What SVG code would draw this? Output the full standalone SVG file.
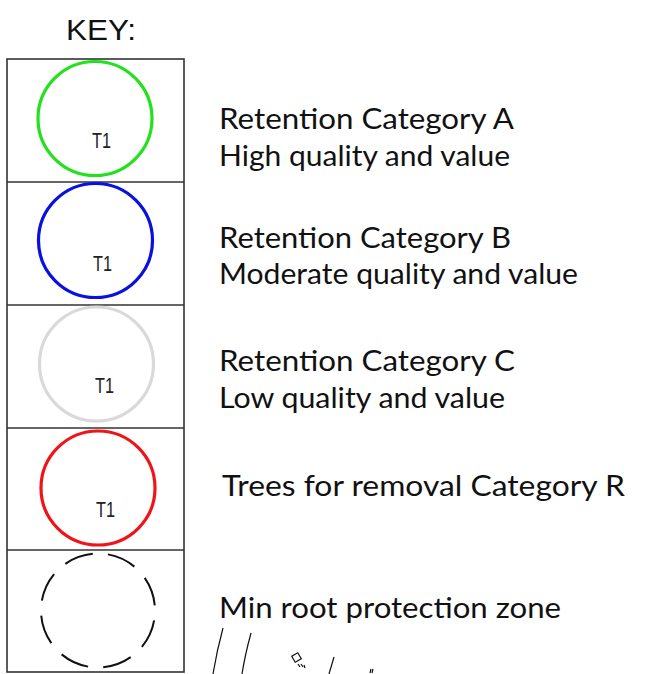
<svg xmlns="http://www.w3.org/2000/svg" width="669" height="674" viewBox="0 0 669 674">
<style>
.box{fill:none;stroke:#333;stroke-width:1.6}
.tree{fill:none;stroke-width:3.2}
.lbl{font-family:Lato,"Open Sans","Liberation Sans",sans-serif;font-size:29px;fill:#111}
.t1{font-family:"Liberation Sans",Arial,sans-serif;font-size:22px;fill:#222}
.thin{fill:none;stroke:#111;stroke-width:1.2}
</style>
<rect width="669" height="674" fill="#fff"/>
<text x="66" y="40" font-family="'Liberation Sans',Arial,sans-serif" font-size="30" fill="#111" textLength="70" lengthAdjust="spacingAndGlyphs">KEY:</text>
<g id="key-box">
<rect class="box" x="7" y="59" width="177" height="613"/>
<line class="box" x1="7" y1="182" x2="184" y2="182"/>
<line class="box" x1="7" y1="305" x2="184" y2="305"/>
<line class="box" x1="7" y1="428" x2="184" y2="428"/>
<line class="box" x1="7" y1="550" x2="184" y2="550"/>
</g>
<g id="cat-a">
<circle class="tree" cx="95" cy="118.5" r="57" stroke="#22e11d"/>
<text class="t1" x="92" y="148" textLength="19" lengthAdjust="spacingAndGlyphs">T1</text>
<text class="lbl" x="219" y="129" textLength="295" lengthAdjust="spacingAndGlyphs">Retention Category A</text>
<text class="lbl" x="219" y="166" textLength="291" lengthAdjust="spacingAndGlyphs">High quality and value</text>
</g>
<g id="cat-b">
<circle class="tree" cx="95.5" cy="240.5" r="57" stroke="#0a10e0"/>
<text class="t1" x="93" y="271" textLength="19" lengthAdjust="spacingAndGlyphs">T1</text>
<text class="lbl" x="219" y="248" textLength="292" lengthAdjust="spacingAndGlyphs">Retention Category B</text>
<text class="lbl" x="219" y="284" textLength="359" lengthAdjust="spacingAndGlyphs">Moderate quality and value</text>
</g>
<g id="cat-c">
<circle class="tree" cx="96.5" cy="364" r="57" stroke="#d9d9d9"/>
<text class="t1" x="95" y="393" textLength="19" lengthAdjust="spacingAndGlyphs">T1</text>
<text class="lbl" x="219" y="371" textLength="296" lengthAdjust="spacingAndGlyphs">Retention Category C</text>
<text class="lbl" x="219" y="408" textLength="286" lengthAdjust="spacingAndGlyphs">Low quality and value</text>
</g>
<g id="cat-r">
<circle class="tree" cx="98" cy="488" r="57" stroke="#f0141a"/>
<text class="t1" x="96" y="517" textLength="19" lengthAdjust="spacingAndGlyphs">T1</text>
<text class="lbl" x="222" y="496" textLength="403" lengthAdjust="spacingAndGlyphs">Trees for removal Category R</text>
</g>
<g id="rpz">
<circle cx="98" cy="610.5" r="57" fill="none" stroke="#111" stroke-width="2" pathLength="8" stroke-dasharray="0.66 0.34" transform="rotate(-80 98 610.5)"/>
<text class="lbl" x="219" y="618" textLength="342" lengthAdjust="spacingAndGlyphs">Min root protection zone</text>
</g>
<g id="fragments">
<path class="thin" d="M223 628 Q217 650 213 674"/>
<path class="thin" d="M251 633 Q245 655 242 674"/>
<rect class="thin" x="293" y="654" width="7" height="7" transform="rotate(-30 296.5 657.5)"/>
<path class="thin" d="M298 664 l2 3 M301 664 l2 3 M304 665 l1 3" stroke-width="1"/>
<path class="thin" d="M334 657 L329 674"/>
<path class="thin" d="M371 669 l-1 4 M373 669 l-1 4" stroke-width="1"/>
</g>
</svg>
